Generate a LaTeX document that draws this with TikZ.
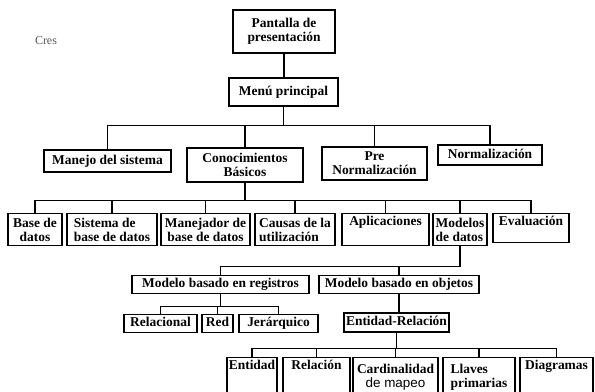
\documentclass[tikz,border=0pt]{standalone}
\usepackage{fontspec}
\setmainfont{Liberation Serif}
\newfontfamily\sansreg{Liberation Sans}
\tikzset{
	caja/.style={
		draw,
		line width=1.3pt,
		inner sep=1.5pt,
		font=\bfseries\fontsize{13.5}{14}\selectfont,
		align=center
	},
	sola/.style={
		caja,
		text height=10pt,
		text depth=3pt
	},
	alta/.style={
		caja,
		anchor=north
	},
	arriba/.style={
		caja,
		anchor=north,
		text height=10pt
	},
	rama/.style={
		line width=1.3pt
	}
}

\begin{document}
\begin{tikzpicture}[x=1bp,y=-1bp]
			\useasboundingbox (0,0) rectangle (595,391);
			\node[text=black!65, font=\fontsize{12}{12}\selectfont] (marca) at (46,41) {Cres};
			\node[caja, minimum width=102bp, minimum height=43bp] (pantalla) at (284,31.5) {Pantalla de\\presentación};
			\node[sola, minimum width=109bp, minimum height=28bp] (menu) at (283.5,92) {Menú principal};
			\node[sola, minimum width=127bp, minimum height=22bp] (manejo) at (107.5,161) {Manejo del sistema};
			\node[caja, minimum width=116bp, minimum height=34bp] (conoc) at (245,165) {Conocimientos\\Básicos};
			\node[caja, minimum width=105bp, minimum height=33bp] (prenorm) at (374.5,163.5) {Pre\\Normalización};
			\node[sola, minimum width=104bp, minimum height=20bp] (norm) at (490,155) {Normalización};
			\node[alta, minimum width=54bp, minimum height=32bp] (base) at (35,213) {Base de\\datos};
			\node[alta, minimum width=90bp, minimum height=32bp, align=left] (sistema) at (112,213) {Sistema de\\base de datos};
			\node[alta, minimum width=89bp, minimum height=32bp] (manejador) at (205.5,213) {Manejador de\\base de datos};
			\node[alta, minimum width=80bp, minimum height=32bp, align=left] (causas) at (295,213) {Causas de la\\utilización};
			\node[arriba, minimum width=87bp, text depth=19pt] (aplic) at (385.5,213) {Aplicaciones};
			\node[alta, minimum width=54bp, minimum height=32bp, align=left] (modelos) at (460,213) {Modelos\\de datos};
			\node[arriba, minimum width=76bp, text depth=16pt] (evalua) at (531,213) {Evaluación};
			\node[sola, minimum width=177bp, minimum height=18bp] (registros) at (220.5,284.5) {Modelo basado en registros};
			\node[sola, minimum width=160bp, minimum height=18bp] (objetos) at (399,284.5) {Modelo basado en objetos};
			\node[sola, minimum width=73bp, minimum height=18bp] (relacional) at (160.5,323.5) {Relacional};
			\node[sola, minimum width=31bp, minimum height=18bp] (red) at (217.5,323.5) {Red};
			\node[sola, minimum width=79bp, minimum height=18bp] (jerarq) at (278.5,323.5) {Jerárquico};
			\node[sola, minimum width=105bp, minimum height=19bp] (entrel) at (396.5,322.5) {Entidad-Relación};
			\node[arriba, minimum width=50bp, text depth=27pt] (entidad) at (252,357) {Entidad};
			\node[arriba, minimum width=67bp, text depth=27pt] (relacion) at (316.5,357) {Relación};
			\node[alta, minimum width=85bp, minimum height=40bp] (cardinal) at (395.5,357) {Cardinalidad\\{\sansreg\mdseries de mapeo}};
			\node[alta, minimum width=72bp, minimum height=40bp, align=left] (llaves) at (479,357) {Llaves\\primarias};
			\node[arriba, minimum width=73bp, text depth=27pt] (diagramas) at (556.5,357) {Diagramas};
			\draw[rama] (pantalla.south) -- (pantalla.south |- menu.north);
			\draw[rama] (menu.south) -- ++(0,19) -| (manejo.north);
			\draw[rama] (menu.south) -- ++(0,19) -| (conoc.north);
			\draw[rama] (menu.south) -- ++(0,19) -| (prenorm.north);
			\draw[rama] (menu.south) -- ++(0,19) -| (norm.north);
			\draw[rama] (conoc.south) -- ++(0,18) -| (base.north);
			\draw[rama] (conoc.south) -- ++(0,18) -| (sistema.north);
			\draw[rama] (conoc.south) -- ++(0,18) -| (manejador.north);
			\draw[rama] (conoc.south) -- ++(0,18) -| (causas.north);
			\draw[rama] (conoc.south) -- ++(0,18) -| (aplic.north);
			\draw[rama] (conoc.south) -- ++(0,18) -| (modelos.north);
			\draw[rama] (conoc.south) -- ++(0,18) -| (evalua.north);
			\draw[rama] (modelos.south) -- ++(0,20) -| (registros.north);
			\draw[rama] (modelos.south) -- ++(0,20) -| (objetos.north);
			\draw[rama] (registros.south) -- ++(0,12) -| (relacional.north);
			\draw[rama] (registros.south) -- ++(0,12) -| (red.north);
			\draw[rama] (registros.south) -- ++(0,12) -| (jerarq.north);
			\draw[rama] (objetos.south) -- (objetos.south |- entrel.north);
			\draw[rama] (entrel.south) -- ++(0,16) -| (entidad.north);
			\draw[rama] (entrel.south) -- ++(0,16) -| (relacion.north);
			\draw[rama] (entrel.south) -- ++(0,16) -| (cardinal.north);
			\draw[rama] (entrel.south) -- ++(0,16) -| (llaves.north);
			\draw[rama] (entrel.south) -- ++(0,16) -| (diagramas.north);
		\end{tikzpicture}
\end{document}
